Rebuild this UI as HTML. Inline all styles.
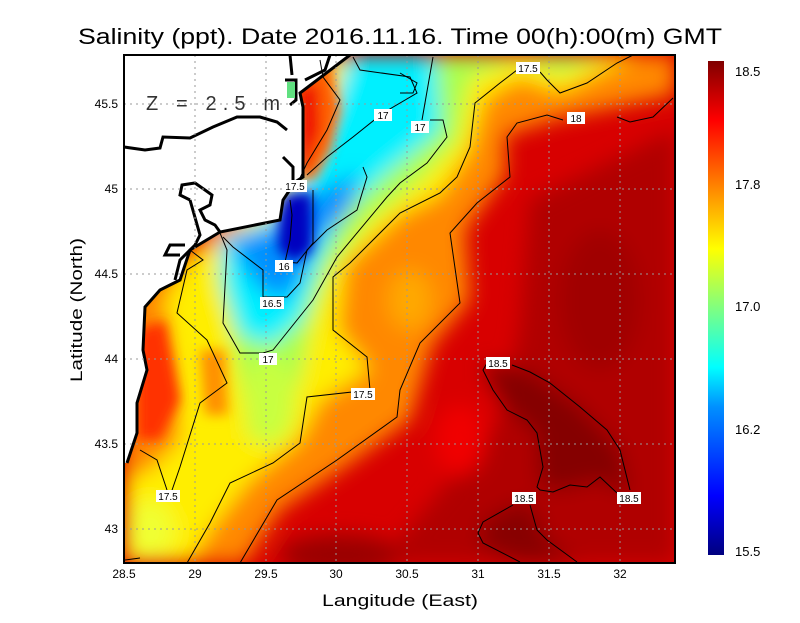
<!DOCTYPE html>
<html><head><style>
body{margin:0;background:#fff;width:800px;height:618px;overflow:hidden}
text{font-family:"Liberation Sans",sans-serif}
</style></head><body>
<svg width="800" height="618" viewBox="0 0 800 618" xmlns="http://www.w3.org/2000/svg">
<defs>
<filter id="b" x="-30%" y="-30%" width="160%" height="160%"><feGaussianBlur stdDeviation="10"/></filter>
<filter id="b2" x="-30%" y="-30%" width="160%" height="160%"><feGaussianBlur stdDeviation="6"/></filter>
<clipPath id="pc"><rect x="124" y="55" width="551" height="508"/></clipPath>
<linearGradient id="cb" x1="0" y1="1" x2="0" y2="0">
<stop offset="0" stop-color="#00007f"/><stop offset="0.12" stop-color="#0000ff"/><stop offset="0.3" stop-color="#0090ff"/><stop offset="0.38" stop-color="#00ffff"/><stop offset="0.5" stop-color="#80ff80"/><stop offset="0.62" stop-color="#ffff00"/><stop offset="0.75" stop-color="#ff8000"/><stop offset="0.88" stop-color="#ff0000"/><stop offset="1" stop-color="#800000"/>
</linearGradient>
</defs>
<text x="78" y="44" font-size="22" textLength="644" lengthAdjust="spacingAndGlyphs" fill="#000">Salinity (ppt). Date 2016.11.16. Time 00(h):00(m) GMT</text>
<g clip-path="url(#pc)">
<rect x="124" y="55" width="551" height="508" fill="#d80000"/>
<g filter="url(#b)">
<polygon points="530,200 675,130 675,563 380,563 450,480 500,420 520,330" fill="#b00000"/>
<polygon points="487,363 530,372 580,407 620,450 630,495 600,480 560,490 540,485 537,433 507,410 483,370" fill="#850000"/>
<polygon points="513,505 483,522 480,545 520,563 577,563 547,540 532,505" fill="#880000"/>
<ellipse cx="600" cy="300" rx="40" ry="70" fill="#a00000"/>
<ellipse cx="340" cy="555" rx="60" ry="20" fill="#9a0000"/>
<ellipse cx="460" cy="440" rx="25" ry="35" fill="#f00000"/>
<polygon points="330,55 675,55 675,95 560,118 505,135 505,175 465,230 470,300 432,345 410,420 340,470 280,510 245,563 124,563 124,300 200,240" fill="#ff8800"/>
<ellipse cx="410" cy="300" rx="22" ry="30" fill="#ffa800"/>
<polygon points="330,55 640,55 600,72 560,92 520,78 485,98 470,150 440,195 400,215 345,265 338,330 370,370 320,400 300,440 250,480 210,530 190,563 124,563 124,480 150,470 180,440 175,380 165,300 190,260 230,240" fill="#ffee00"/>
<polygon points="345,55 610,55 560,74 520,60 470,78 458,140 420,180 370,220 330,270 310,330 300,380 280,430 250,440 240,380 230,330 215,270 260,240 320,190 335,140" fill="#a8ff50"/>
<ellipse cx="270" cy="400" rx="25" ry="45" fill="#c8ff40"/>
<ellipse cx="150" cy="530" rx="25" ry="30" fill="#f0ff30"/>
<polygon points="350,55 435,55 440,130 390,170 345,210 320,260 300,320 270,345 240,335 225,290 220,240 270,220 300,180 330,110" fill="#00f0ff"/>
<polygon points="230,240 280,225 300,200 360,172 350,210 320,240 300,280 285,300 260,290 240,260" fill="#0090ff"/>
</g>
<g filter="url(#b2)">
<polygon points="285,195 312,192 312,250 295,262 278,250 280,215" fill="#0000c0"/>
<polygon points="300,65 330,65 340,110 330,150 315,178 300,180" fill="#ff6000"/>
<polygon points="300,85 318,85 320,130 305,170 298,170" fill="#f01000"/>
<polygon points="137,330 165,320 180,400 160,440 137,440" fill="#ff3000"/>
<polygon points="200,350 225,350 228,415 205,415" fill="#ff9000"/>
</g>
<!-- land -->
<path d="M124,55 L350,55 L300,93 L303,107 L303,177 L283,200 L280,220 L220,232 L190,250 L180,280 L160,290 L145,307 L143,350 L147,370 L137,403 L137,433 L127,463 L124,463 Z" fill="#fff"/>
<path d="M350,55 L300,93 L303,107 L303,177 L295,182 L283,200 L280,220 L220,232 L190,250 L180,280 L160,290 L145,307 L143,350 L147,370 L137,403 L137,433 L127,463" fill="none" stroke="#000" stroke-width="3"/>
<path d="M124,147 L145,150 L160,148 L163,137 L190,138 L213,127 L237,117 L260,117 L277,122 L287,130 M283,157 L293,167 L293,180" fill="none" stroke="#000" stroke-width="3"/>
<path d="M285,80 L296,80 L296,100 L290,105 M290,55 L292,75 M330,55 L325,70 L305,80" fill="none" stroke="#000" stroke-width="3"/>
<path d="M190,200 L180,195 L182,185 L195,183 L205,190 L212,195 L210,205 L200,210 L205,220 L215,225 L220,232 M190,200 L200,235 L195,245 L180,260 L175,280 M185,245 L170,245 L165,255 L180,255" fill="none" stroke="#000" stroke-width="3"/>
<rect x="287" y="82" width="8" height="16" fill="#60e080"/>
<!-- grid -->
<g stroke="#999" stroke-dasharray="2,4" stroke-width="1">
<path d="M195,55V563M266,55V563M336,55V563M407,55V563M478,55V563M549,55V563M620,55V563M124,529H675M124,444H675M124,359H675M124,274H675M124,189H675M124,104H675"/>
</g>
<!-- contours -->
<g fill="none" stroke="#000" stroke-width="1">
<path d="M320,60 L323,77 L340,100 L327,130 L307,163 L300,178"/>
<path d="M353,57 L360,70 L410,77 L417,93 L383,113 L353,137 L327,157 L307,175"/>
<path d="M400,73 L417,83 L413,93 L400,93"/>
<path d="M313,190 L313,243 L297,263 L285,262 L290,240 L292,215 L290,200"/>
<path d="M363,167 L367,177 L357,210 L327,230 L307,250 L300,283 L287,297 L263,297 L263,270 L233,247 L223,237"/>
<path d="M433,57 L422,120 M430,120 L443,120 L447,137 L427,163 L400,183 L387,197 L337,257 L313,300 L273,350 L263,353 L240,353 L223,323 L227,250 L220,233"/>
<path d="M187,563 L210,523 L230,483 L273,463 L300,443 L307,397 L370,390 L367,357 L333,330 L333,277 L350,263 L400,213 L440,193 L457,177 L470,147 L475,103 L500,83 L517,70 M540,72 L547,80 L560,93 L587,83 L617,63 L633,55"/>
<path d="M673,98 L653,117 L630,122 L617,117 M563,120 L547,115 L517,123 L507,137 L510,177 L477,203 L450,233 L460,303 L420,343 L400,390 L397,417 L337,460 L277,500 L240,563"/>
<path d="M140,450 L157,460 L167,490 M170,496 L180,467 L200,403 L227,383 L207,340 L177,313 L187,270 L203,260 L190,250"/>
<path d="M125,560 L140,558"/>
<path d="M512,365 L530,372 L550,383 L580,407 L607,430 L620,450 L630,490 M617,493 L600,477 L587,487 L570,485 L553,492 L540,490 L537,487 L543,467 L537,433 L527,420 L507,410 L493,390 L483,370 L487,363"/>
<path d="M513,505 L483,522 L478,533 L483,543 L520,562 M530,505 L537,530 L547,540 L577,562"/>
</g>
</g>
<!-- contour labels -->
<g font-size="10" text-anchor="middle">
<rect x="516" y="62" width="24" height="12" fill="#fff"/><text x="528" y="72">17.5</text>
<rect x="567" y="112" width="18" height="12" fill="#fff"/><text x="576" y="122">18</text>
<rect x="374" y="109" width="18" height="12" fill="#fff"/><text x="383" y="119">17</text>
<rect x="411" y="121" width="18" height="12" fill="#fff"/><text x="420" y="131">17</text>
<rect x="283" y="180" width="24" height="12" fill="#fff"/><text x="295" y="190">17.5</text>
<rect x="275" y="260" width="18" height="12" fill="#fff"/><text x="284" y="270">16</text>
<rect x="260" y="297" width="24" height="12" fill="#fff"/><text x="272" y="307">16.5</text>
<rect x="259" y="353" width="18" height="12" fill="#fff"/><text x="268" y="363">17</text>
<rect x="351" y="388" width="24" height="12" fill="#fff"/><text x="363" y="398">17.5</text>
<rect x="486" y="357" width="24" height="12" fill="#fff"/><text x="498" y="367">18.5</text>
<rect x="512" y="492" width="24" height="12" fill="#fff"/><text x="524" y="502">18.5</text>
<rect x="617" y="492" width="24" height="12" fill="#fff"/><text x="629" y="502">18.5</text>
<rect x="156" y="490" width="24" height="12" fill="#fff"/><text x="168" y="500">17.5</text>
</g>
<text x="146" y="110" font-size="20" fill="#333" textLength="134" lengthAdjust="spacing">Z = 2.5 m</text>
<rect x="124" y="55" width="551" height="508" fill="none" stroke="#000" stroke-width="2"/>
<g font-size="12" text-anchor="middle">
<text x="124" y="578">28.5</text><text x="195" y="578">29</text><text x="266" y="578">29.5</text><text x="336" y="578">30</text><text x="407" y="578">30.5</text><text x="478" y="578">31</text><text x="549" y="578">31.5</text><text x="620" y="578">32</text>
</g>
<g font-size="12" text-anchor="end">
<text x="118" y="533">43</text><text x="118" y="448">43.5</text><text x="118" y="363">44</text><text x="118" y="278">44.5</text><text x="118" y="193">45</text><text x="118" y="108">45.5</text>
</g>
<text x="322" y="606" font-size="17" textLength="156" lengthAdjust="spacingAndGlyphs">Langitude (East)</text>
<text transform="translate(82,382) rotate(-90)" font-size="17" textLength="144" lengthAdjust="spacingAndGlyphs">Latitude (North)</text>
<rect x="708" y="61" width="16" height="494" fill="url(#cb)"/>
<g font-size="13">
<text x="735" y="76">18.5</text><text x="735" y="189">17.8</text><text x="735" y="311">17.0</text><text x="735" y="434">16.2</text><text x="735" y="556">15.5</text>
</g>
</svg>
</body></html>
